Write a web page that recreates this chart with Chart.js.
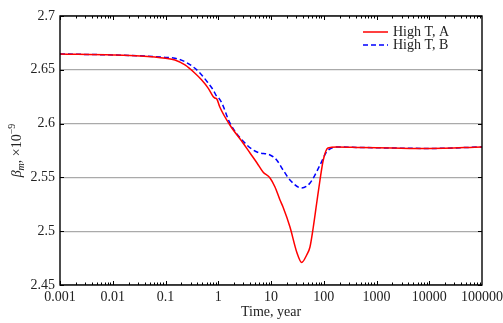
<!DOCTYPE html>
<html>
<head>
<meta charset="utf-8">
<script src="https://cdn.jsdelivr.net/npm/chart.js@4/dist/chart.umd.min.js"></script>
<style>
  html, body { margin: 0; padding: 0; background: #fff; }
  #wrap { width: 503px; height: 323px; }
</style>
</head>
<body>
<div id="wrap"><canvas id="chart"></canvas></div>
<script>
// time in years (log axis) and beta_m values (x 1e-9)
const timeA = [0.001, 0.01, 0.033, 0.1, 0.151, 0.234, 0.362, 0.486, 0.648, 0.805, 0.86, 0.94, 1.07, 1.66, 2.95, 4.0, 5.43, 7.05, 9.58, 11.9, 14.8, 16.9, 22.9, 30.7, 38.2, 47.5, 54.8, 63.4, 73.5, 84.9, 98, 120, 178, 500, 2000, 10000, 100000];
const highTA = [2.6647, 2.6638, 2.6628, 2.6607, 2.6591, 2.6545, 2.6468, 2.6405, 2.6328, 2.625, 2.6238, 2.6229, 2.6154, 2.5987, 2.582, 2.5727, 2.5634, 2.555, 2.5495, 2.5411, 2.529, 2.5225, 2.5039, 2.4807, 2.471, 2.4779, 2.4853, 2.5039, 2.5262, 2.5476, 2.5662, 2.5773, 2.5783, 2.5778, 2.5773, 2.5769, 2.5783];

const timeB = [0.001, 0.01, 0.033, 0.1, 0.151, 0.234, 0.362, 0.486, 0.648, 0.805, 0.93, 0.98, 1.17, 1.66, 3.5, 5.43, 9.58, 12.8, 16.9, 22.9, 38, 55, 85, 113, 178, 500, 2000, 10000, 100000];
const highTB = [2.6647, 2.6638, 2.663, 2.6615, 2.6607, 2.6575, 2.6514, 2.6452, 2.6375, 2.6312, 2.6255, 2.6248, 2.6191, 2.6006, 2.5801, 2.5736, 2.5708, 2.5662, 2.557, 2.5476, 2.5401, 2.5448, 2.5615, 2.5736, 2.5783, 2.5778, 2.5773, 2.5769, 2.5783];

const xTicks = [0.001, 0.01, 0.1, 1, 10, 100, 1000, 10000, 100000];
const xTickLabels = ['0.001', '0.01', '0.1', '1', '10', '100', '1000', '10000', '100000'];
const yTicks = [2.45, 2.5, 2.55, 2.6, 2.65, 2.7];
const yTickLabels = ['2.45', '2.5', '2.55', '2.6', '2.65', '2.7'];

const FONT = '"Liberation Serif", "DejaVu Serif", serif';

const toPoints = (xs, ys) => xs.map((x, i) => ({ x: x, y: ys[i] }));

// box, inward ticks, legend and y title
const framePlugin = {
  id: 'frame',
  afterDraw(chart) {
    const ctx = chart.ctx;
    const a = chart.chartArea;
    const xs = chart.scales.x, ys = chart.scales.y;
    ctx.save();
    ctx.strokeStyle = '#000';
    ctx.lineWidth = 1;

    // minor + major ticks along top and bottom
    ctx.beginPath();
    for (let k = -3; k <= 4; k++) {
      for (let m = 1; m <= 9; m++) {
        const v = m * Math.pow(10, k);
        const px = Math.round(xs.getPixelForValue(v)) + 0.5;
        const len = m === 1 ? 4 : 2.5;
        ctx.moveTo(px, a.bottom); ctx.lineTo(px, a.bottom - len);
        ctx.moveTo(px, a.top); ctx.lineTo(px, a.top + len);
      }
    }
    yTicks.forEach(v => {
      const py = Math.round(ys.getPixelForValue(v)) + 0.5;
      ctx.moveTo(a.left, py); ctx.lineTo(a.left + 4, py);
      ctx.moveTo(a.right, py); ctx.lineTo(a.right - 4, py);
    });
    ctx.stroke();

    ctx.lineWidth = 1.4;
    ctx.strokeRect(a.left, a.top, a.right - a.left, a.bottom - a.top);

    // legend
    const rows = [32, 45];
    chart.data.datasets.forEach((ds, i) => {
      const y = rows[i];
      ctx.beginPath();
      ctx.strokeStyle = ds.borderColor;
      ctx.lineWidth = ds.borderWidth;
      ctx.setLineDash(ds.borderDash || []);
      ctx.moveTo(363, y); ctx.lineTo(388, y);
      ctx.stroke();
      ctx.setLineDash([]);
      ctx.fillStyle = '#222';
      ctx.font = '14px ' + FONT;
      ctx.textBaseline = 'middle';
      ctx.textAlign = 'left';
      ctx.fillText(ds.label, 393, y);
    });

    // y axis title: beta_m, x10^-9
    const cy = (a.top + a.bottom) / 2;
    ctx.translate(16, cy);
    ctx.rotate(-Math.PI / 2);
    ctx.fillStyle = '#222';
    ctx.textBaseline = 'alphabetic';
    ctx.textAlign = 'left';
    const parts = [
      { t: '\u03B2', f: 'italic 14px ' + FONT, dy: 0 },
      { t: 'm', f: 'italic 10px ' + FONT, dy: 3 },
      { t: ', \u00D710', f: '14px ' + FONT, dy: 0 },
      { t: '\u22129', f: '10px ' + FONT, dy: -6 }
    ];
    let total = 0;
    parts.forEach(p => { ctx.font = p.f; p.w = ctx.measureText(p.t).width; total += p.w; });
    let x = -total / 2;
    parts.forEach(p => { ctx.font = p.f; ctx.fillText(p.t, x, 5 + p.dy); x += p.w; });
    ctx.restore();
  }
};

new Chart(document.getElementById('chart'), {
  type: 'line',
  data: {
    datasets: [
      {
        label: 'High T, A',
        data: toPoints(timeA, highTA),
        borderColor: '#ff0000',
        borderWidth: 1.5,
        pointRadius: 0,
        cubicInterpolationMode: 'monotone',
        fill: false
      },
      {
        label: 'High T, B',
        data: toPoints(timeB, highTB),
        borderColor: '#0000ff',
        borderWidth: 1.5,
        borderDash: [5, 3],
        pointRadius: 0,
        cubicInterpolationMode: 'monotone',
        fill: false
      }
    ]
  },
  options: {
    responsive: true,
    maintainAspectRatio: false,
    animation: false,
    layout: { padding: { top: 16, right: 21, left: 0, bottom: 0 } },
    plugins: {
      legend: { display: false },
      tooltip: { enabled: false }
    },
    scales: {
      x: {
        type: 'logarithmic',
        min: 0.001,
        max: 100000,
        afterBuildTicks: s => { s.ticks = xTicks.map(v => ({ value: v })); },
        afterFit: s => { s.height = 38; s.paddingLeft = 0; s.paddingRight = 0; },
        ticks: {
          autoSkip: false,
          maxRotation: 0,
          padding: 4,
          color: '#222',
          font: { family: FONT, size: 14 },
          callback: (v, i) => xTickLabels[i]
        },
        grid: { display: false, drawTicks: false },
        border: { display: false },
        title: {
          display: true,
          text: 'Time, year',
          color: '#222',
          font: { family: FONT, size: 14 },
          padding: { top: 0, bottom: 2 }
        }
      },
      y: {
        min: 2.45,
        max: 2.7,
        afterBuildTicks: s => { s.ticks = yTicks.map(v => ({ value: v })); },
        afterFit: s => { s.width = 60; },
        ticks: {
          padding: 5,
          color: '#222',
          font: { family: FONT, size: 14 },
          callback: (v, i) => yTickLabels[i]
        },
        grid: { color: '#aaaaaa', lineWidth: 1.2, drawTicks: false },
        border: { display: false }
      }
    }
  },
  plugins: [framePlugin]
});
</script>
</body>
</html>
